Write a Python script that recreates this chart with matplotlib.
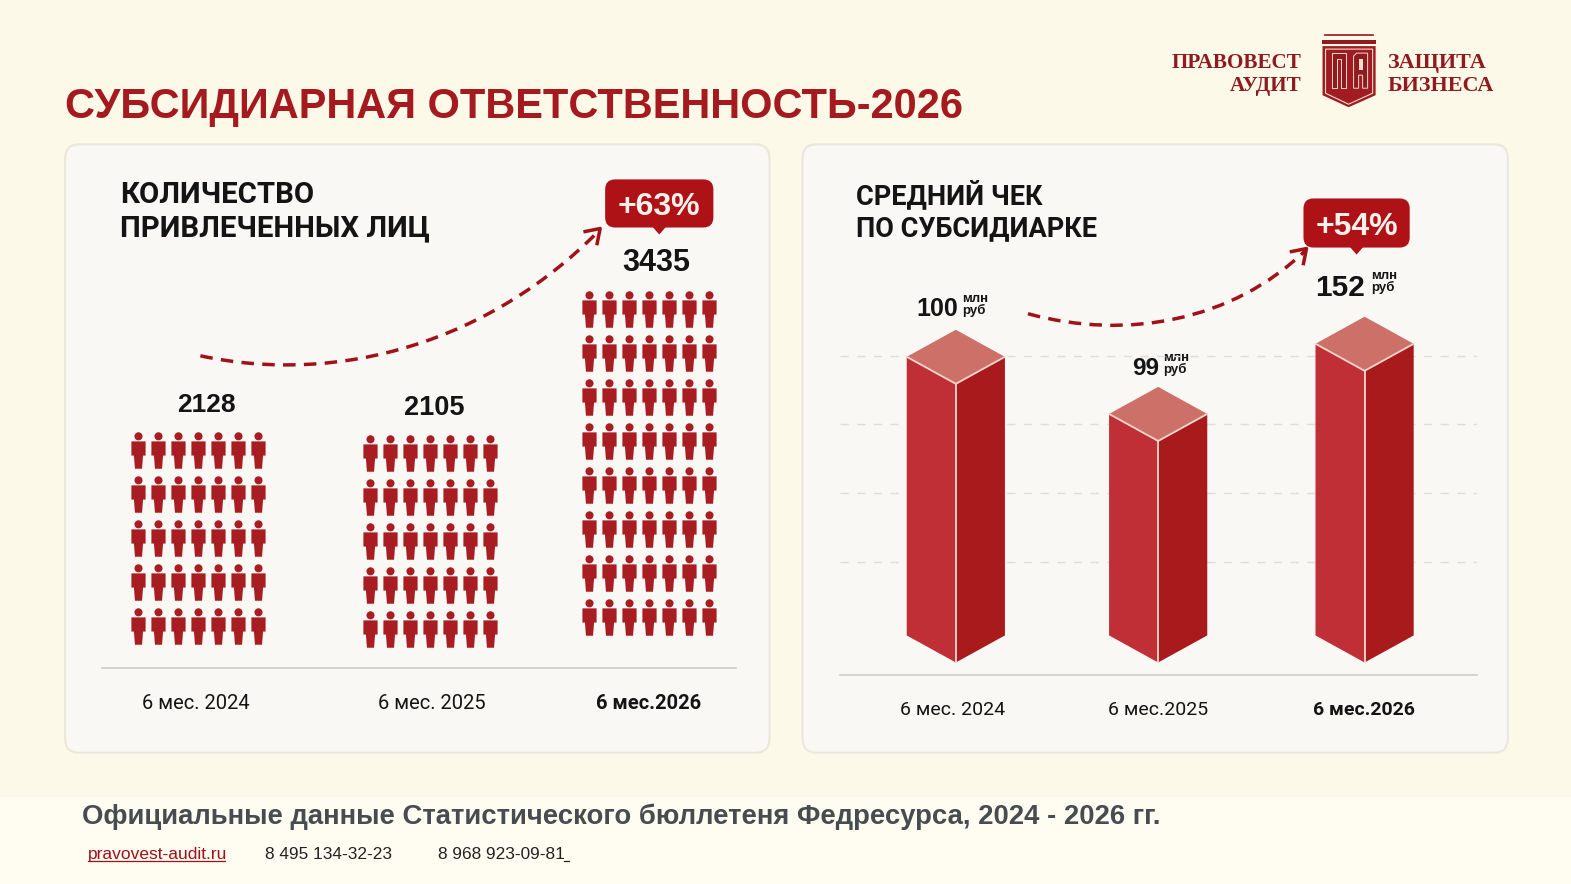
import matplotlib
matplotlib.use("Agg")
import matplotlib.pyplot as plt
from matplotlib.patches import FancyBboxPatch, Polygon, PathPatch, Rectangle
from matplotlib.path import Path
import numpy as np

# ---------- data ----------
title = "СУБСИДИАРНАЯ ОТВЕТСТВЕННОСТЬ-2026"
left_heading = ["КОЛИЧЕСТВО", "ПРИВЛЕЧЕННЫХ ЛИЦ"]
right_heading = ["СРЕДНИЙ ЧЕК", "ПО СУБСИДИАРКЕ"]
left_categories = ["6 мес. 2024", "6 мес. 2025", "6 мес.2026"]
right_categories = ["6 мес. 2024", "6 мес.2025", "6 мес.2026"]
people_counts = [2128, 2105, 3435]
icon_rows = [5, 5, 8]
avg_check = [100, 99, 152]
drawn_bar_heights = [278, 221, 291]
left_growth = "+63%"
right_growth = "+54%"
footer = "Официальные данные Статистического бюллетеня Федресурса, 2024 - 2026 гг."
site = "pravovest-audit.ru"
phones = ["8 495 134-32-23", "8 968 923-09-81"]

# ---------- style ----------
BG = "#FDF9E9"; FOOT = "#FFFDF2"; CARD = "#F9F8F5"; CARD_E = "#EAE7DD"
DARK = "#A81D21"; TXT = "#141414"
SANS = "Roboto"; ARIAL = "Liberation Sans"; SERIF = "Liberation Serif"
W, H = 1568, 882   # layout grid
fig = plt.figure(figsize=(15.71, 8.84), dpi=100, facecolor=BG)

def axes_px(x0, y0, x1, y1, **kw):
    return fig.add_axes([x0 / W, 1 - y1 / H, (x1 - x0) / W, (y1 - y0) / H], **kw)

bg = axes_px(0, 0, W, H)
bg.set_xlim(0, W); bg.set_ylim(H, 0); bg.axis("off")
bg.add_patch(Rectangle((0, 795), W, 89, fc=FOOT, ec="none"))

def T(x, y, s, size, weight="normal", color=TXT, ha="center", family=SANS, **kw):
    return bg.text(x, y + 5, s, fontsize=size, fontweight=weight, color=color, ha=ha,
                   va="center", family=family, **kw)

T(65, 102, title, 29.9, "bold", "#A51A1E", "left", ARIAL)

for x0, x1 in [(65, 768), (801, 1505)]:
    bg.add_patch(FancyBboxPatch((x0 + 14, 158), x1 - x0 - 28, 579,
                                boxstyle="round,pad=14,rounding_size=14",
                                fc=CARD, ec=CARD_E, lw=1.5))

# ---------- logo ----------
LOGO = "#8F1A1F"; SHIELD = "#A01C22"; CREAM = "#F3DCCB"
T(1299, 58, "ПРАВОВЕСТ", 15.2, "bold", LOGO, "right", SERIF)
T(1299, 81, "АУДИТ", 15.2, "bold", LOGO, "right", SERIF)
T(1385, 58, "ЗАЩИТА", 15.9, "bold", LOGO, "left", SERIF)
T(1385, 81, "БИЗНЕСА", 15.9, "bold", LOGO, "left", SERIF)
bg.plot([1322, 1370], [35, 35], color=LOGO, lw=1.2)
bg.add_patch(Rectangle((1319, 40), 54, 4, fc=LOGO, ec="none"))
bg.add_patch(Polygon([(1320, 46), (1373, 46), (1373, 95), (1346, 107), (1320, 95)], fc=SHIELD, ec="none"))
bg.add_patch(Polygon([(1323, 49), (1370, 49), (1370, 93), (1346, 104), (1323, 93)], fc="none", ec=CREAM, lw=0.8))
bg.add_patch(Polygon([(1329, 53), (1343, 53), (1343, 88), (1338, 88), (1338, 59), (1334, 59), (1334, 88), (1329, 88)],
                     fc=LOGO, ec=CREAM, lw=0.7))
bg.add_patch(Polygon([(1351, 88), (1351, 56), (1354, 53), (1365, 53), (1365, 88), (1360, 88), (1360, 75), (1356, 75), (1356, 88)],
                     fc=LOGO, ec=CREAM, lw=0.7))
bg.add_patch(Rectangle((1356, 59), 4, 11, fc=CREAM, ec="none"))

# ---------- left panel: pictogram ----------
head = Path.circle((0, 14), 4)
body = Path([(-7, 9), (7, 9), (7, -5), (4.5, -5), (3.5, -18), (-3.5, -18), (-4.5, -5), (-7, -5), (-7, 9)],
            closed=True)
person = Path.make_compound_path(head, body)
ax1 = axes_px(102, 260, 735, 666)
ax1.set_xlim(102, 735); ax1.set_ylim(0, 406)
ax1.patch.set_alpha(0)
for s in ["top", "left", "right"]:
    ax1.spines[s].set_visible(False)
ax1.spines["bottom"].set_color("#C8C8C4"); ax1.spines["bottom"].set_linewidth(1.1)
ax1.set_xticks([]); ax1.set_yticks([])
group_x = [198, 429, 648]
group_base = [41, 38, 50]
COLS, DX, DY = 7, 20, 44
for gx, base, rows in zip(group_x, group_base, icon_rows):
    xs, ys = np.meshgrid(gx + DX * (np.arange(COLS) - 3), base + DY * np.arange(rows))
    ax1.scatter(xs.ravel(), ys.ravel(), s=690, marker=person, color=DARK, lw=0)

for (x, y, sz), v in zip([(206, 399, 19), (433, 402, 19.5), (655, 257, 22)], people_counts):
    T(x, y, str(v), sz, "bold", family=ARIAL)
for x, c, w in zip([195, 431, 647], left_categories, ["normal", "normal", "bold"]):
    T(x, 697, c, 14.5, w)
T(120, 190, left_heading[0], 21.2, "bold", ha="left")
T(120, 223, left_heading[1], 21.2, "bold", ha="left")

# ---------- right panel: 3D bars ----------
ax2 = axes_px(838, 280, 1474, 673)
x_scale = 204
ax2.set_xlim(-(954 - 838) / x_scale, (1474 - 954) / x_scale)
ax2.set_ylim(-12, 381)
ax2.patch.set_alpha(0)
for s in ["top", "left", "right"]:
    ax2.spines[s].set_visible(False)
ax2.spines["bottom"].set_color("#C8C8C4"); ax2.spines["bottom"].set_linewidth(1.1)
ax2.set_xticks([]); ax2.set_yticks([100, 169, 238, 306])
ax2.tick_params(length=0, labelleft=False)
ax2.grid(axis="y", color="#DEDDD8", lw=1, ls=(0, (6, 6)))
ax2.set_axisbelow(True)
HW, RISE = 49 / x_scale, 27
EDGE = "#F6D8CC"
bar_slots = [0, 0.99, 2]
for i, h in zip(bar_slots, drawn_bar_heights):
    ax2.add_patch(Polygon([(i - HW, RISE), (i, 0), (i, h), (i - HW, h + RISE)], fc="#C02E36", ec="none"))
    ax2.add_patch(Polygon([(i, 0), (i + HW, RISE), (i + HW, h + RISE), (i, h)], fc="#A81A1C", ec="none"))
    ax2.add_patch(Polygon([(i - HW, h + RISE), (i, h), (i + HW, h + RISE), (i, h + 2 * RISE)], fc="#CD7068", ec="none"))
    ax2.plot([i - HW, i, i + HW], [h + RISE, h, h + RISE], color=EDGE, lw=1.3, solid_capstyle="round")
    ax2.plot([i, i], [0, h], color=EDGE, lw=1.3)

for (x, y, sz, ux, uy), v in zip([(935, 303, 18, 960, 293), (1143, 363, 17.5, 1161, 352), (1338, 282, 21.5, 1369, 270)], avg_check):
    T(x, y, str(v), sz, "bold", family=ARIAL)
    T(ux, uy, "млн", 9.5, "bold", ha="left", family=ARIAL)
    T(ux, uy + 12, "руб", 9.5, "bold", ha="left", family=ARIAL)
for x, c, w in zip([951, 1156, 1361], right_categories, ["normal", "normal", "bold"]):
    T(x, 703, c, 14, w)
T(854, 190, right_heading[0], 19.5, "bold", ha="left")
T(854, 223, right_heading[1], 19.5, "bold", ha="left")

# ---------- arrows & badges ----------
ARROW = "#A01218"
def curve(p0, p1, p2, p3):
    bg.add_patch(PathPatch(Path([p0, p1, p2, p3], [Path.MOVETO, Path.CURVE4, Path.CURVE4, Path.CURVE4]),
                           fc="none", ec=ARROW, lw=2.5, ls=(0, (3.6, 2.4))))
curve((200, 355), (340, 385), (490, 340), (598, 230))
bg.plot([584, 599, 596], [231, 228, 243], color=ARROW, lw=2.5)
curve((1026, 313), (1125, 340), (1230, 320), (1303, 250))
bg.plot([1289, 1304, 1301], [251, 248, 263], color=ARROW, lw=2.5)

def badge(x0, y0, x1, y1, s):
    cx = (x0 + x1) / 2
    bg.add_patch(FancyBboxPatch((x0 + 10, y0 + 10), x1 - x0 - 20, y1 - y0 - 20,
                                boxstyle="round,pad=10,rounding_size=10", fc="#AE1116", ec="none"))
    bg.add_patch(Polygon([(cx - 7, y1 - 1), (cx + 7, y1 - 1), (cx, y1 + 7)], fc="#AE1116", ec="none"))
    T(cx, (y0 + y1) / 2 - 1, s, 23, "bold", "#FBF1EA", family=ARIAL)
badge(604, 179, 712, 227, left_growth)
badge(1301, 198, 1407, 247, right_growth)

# ---------- footer ----------
T(82, 810, footer, 19.8, "bold", "#474C50", "left", ARIAL)
T(88, 848, site, 12.5, color="#A01018", ha="left", family=ARIAL)
bg.plot([88, 225], [859, 859], color="#A01018", lw=0.9)
T(264, 848, phones[0], 12.4, color="#222222", ha="left", family=ARIAL)
T(437, 848, phones[1], 12.4, color="#222222", ha="left", family=ARIAL)
bg.plot([563, 568], [859, 859], color="#222222", lw=0.9)

fig.savefig("out.png", dpi=100, facecolor=BG)
